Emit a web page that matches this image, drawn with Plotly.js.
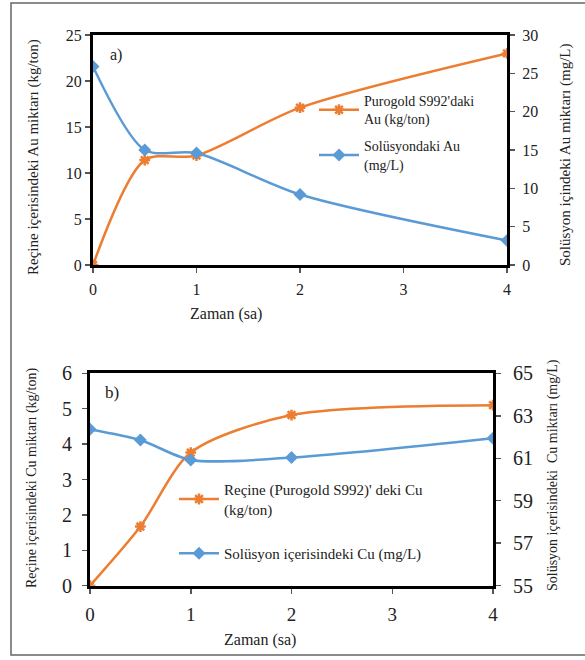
<!DOCTYPE html>
<html><head><meta charset="utf-8">
<script src="https://cdn.plot.ly/plotly-3.0.1.min.js"></script>
<style>html,body{margin:0;padding:0;background:#fff}</style>
</head><body><div id="chart" style="width:585px;height:660px"></div>
<script>
// Data
const timeA = [0, 0.5, 1, 2, 4];
const resinAu = [0, 11.4, 11.9, 17.1, 23.0];        // kg/ton, left axis (a)
const solutionAu = [25.9, 15.0, 14.6, 9.2, 3.2];    // mg/L, right axis (a)
const timeB = [0, 0.5, 1, 2, 4];
const resinCu = [0, 1.67, 3.76, 4.82, 5.10];        // kg/ton, left axis (b)
const solutionCu = [62.36, 61.86, 60.92, 61.03, 61.94]; // mg/L, right axis (b)
const xTicks = [0, 1, 2, 3, 4];
const cuRightTicks = [55, 57, 59, 61, 63, 65];

const ORANGE = '#ED7D31', BLUE = '#5B9BD5';
const FONT = '"Liberation Serif", "DejaVu Serif", serif';
const W = 585, H = 660;
const px = v => v / W, py = v => 1 - v / H;

const starMarker = {symbol: 'asterisk-open', size: 9, color: ORANGE, line: {color: ORANGE, width: 2.5}};
const diaMarker = {symbol: 'diamond', size: 10, color: BLUE};

const traces = [
  {x: timeA, y: resinAu, name: "Purogold S992'daki<br>Au (kg/ton)", xaxis: 'x', yaxis: 'y', mode: 'lines+markers',
   line: {color: ORANGE, width: 2.5, shape: 'spline', smoothing: 0.8}, marker: starMarker, legend: 'legend', legendgroup: 'a1'},
  {x: timeA, y: solutionAu, name: 'Solüsyondaki Au<br>(mg/L)', xaxis: 'x', yaxis: 'y2', mode: 'lines+markers',
   line: {color: BLUE, width: 2.5, shape: 'spline', smoothing: 0.8}, marker: diaMarker, legend: 'legend', legendgroup: 'a2'},
  {x: timeB, y: resinCu, name: "Reçine (Purogold S992)' deki Cu<br>(kg/ton)", xaxis: 'x2', yaxis: 'y3', mode: 'lines+markers',
   line: {color: ORANGE, width: 2.5, shape: 'spline', smoothing: 0.8}, marker: starMarker, legend: 'legend2', legendgroup: 'b1'},
  {x: timeB, y: solutionCu, name: 'Solüsyon içerisindeki Cu (mg/L)', xaxis: 'x2', yaxis: 'y4', mode: 'lines+markers',
   line: {color: BLUE, width: 2.5, shape: 'spline', smoothing: 0.8}, marker: diaMarker, legend: 'legend2', legendgroup: 'b2'}
];

const axBase = {showline: true, linecolor: '#000', linewidth: 3, ticks: 'outside', ticklen: 5, tickwidth: 1.5,
  tickcolor: '#555', showgrid: false, zeroline: false, fixedrange: true};

const layout = {
  width: W, height: H, margin: {l: 0, r: 0, t: 0, b: 0},
  paper_bgcolor: '#fff', plot_bgcolor: '#fff',
  font: {family: FONT, color: '#222'},
  xaxis: Object.assign({}, axBase, {domain: [px(93), px(507)], anchor: 'y', range: [0, 4], tickvals: xTicks,
    mirror: true, tickfont: {size: 16, family: FONT}, ticklabelstandoff: 3}),
  yaxis: Object.assign({}, axBase, {domain: [py(265), py(35)], anchor: 'x', range: [0, 25], dtick: 5,
    tickfont: {size: 16, family: FONT}}),
  yaxis2: Object.assign({}, axBase, {domain: [py(265), py(35)], anchor: 'x', overlaying: 'y', side: 'right',
    range: [0, 30], dtick: 5, tickfont: {size: 16, family: FONT}, ticklabelstandoff: 4}),
  xaxis2: Object.assign({}, axBase, {domain: [px(90), px(493)], anchor: 'y3', range: [0, 4], tickvals: xTicks,
    mirror: true, tickfont: {size: 19, family: FONT}, ticklabelstandoff: 4}),
  yaxis3: Object.assign({}, axBase, {domain: [py(585.7), py(373.3)], anchor: 'x2', range: [0, 6], dtick: 1,
    tickfont: {size: 20, family: FONT}, ticklabelstandoff: 6}),
  yaxis4: Object.assign({}, axBase, {domain: [py(585.7), py(373.3)], anchor: 'x2', overlaying: 'y3', side: 'right',
    range: [55, 65], tickvals: cuRightTicks, tickfont: {size: 20, family: FONT}, ticklabelstandoff: 8}),
  legend: {x: px(314), y: py(85), xanchor: 'left', yanchor: 'top', bgcolor: 'rgba(0,0,0,0)',
    font: {size: 14, family: FONT, color: '#222'}, tracegroupgap: 6, itemwidth: 40},
  legend2: {x: px(174), y: py(473), xanchor: 'left', yanchor: 'top', bgcolor: 'rgba(0,0,0,0)',
    font: {size: 15, family: FONT, color: '#222'}, tracegroupgap: 22, itemwidth: 40},
  shapes: [
    {type: 'rect', xref: 'paper', yref: 'paper', x0: px(11), x1: px(600), y0: py(655), y1: py(3),
     line: {color: '#666', width: 1.5}}
  ],
  annotations: [
    {text: 'a)', x: px(116), y: py(55)},
    {text: 'b)', x: px(112), y: py(392), size: 17},
    {text: 'Zaman (sa)', x: px(226), y: py(314)},
    {text: 'Zaman (sa)', x: px(260), y: py(640)},
    {text: 'Reçine içerisindeki Au miktarı (kg/ton)', x: px(33), y: py(157), rot: true, size: 15},
    {text: 'Solüsyon içindeki Au miktarı (mg/L)', x: px(565), y: py(155), rot: true, size: 15},
    {text: 'Reçine içerisindeki Cu miktarı (kg/ton)', x: px(32), y: py(478), rot: true, size: 14},
    {text: 'Solüsyon içerisindeki  Cu miktarı (mg/L)', x: px(553), y: py(475), rot: true, size: 14}
  ].map(a => ({text: a.text, x: a.x, y: a.y, xref: 'paper', yref: 'paper', showarrow: false,
    xanchor: 'center', yanchor: 'middle', textangle: a.rot ? -90 : 0,
    font: {size: a.size || 16, family: FONT, color: '#222'}}))
};

Plotly.newPlot('chart', traces, layout, {displayModeBar: false, staticPlot: true});
</script></body></html>
